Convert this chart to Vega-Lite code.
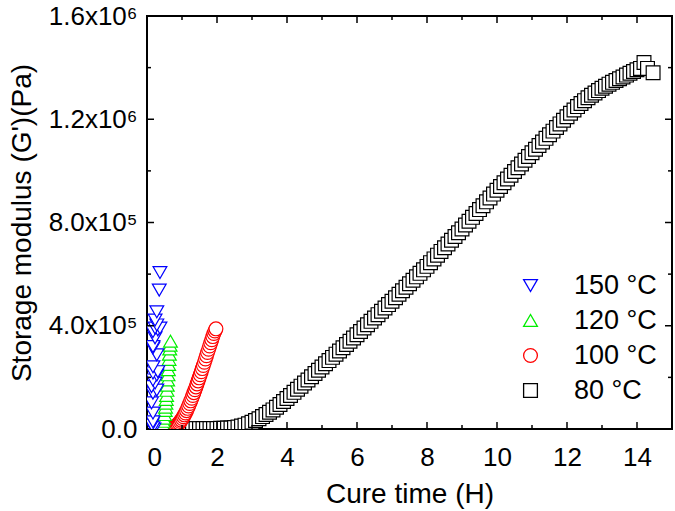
{
"$schema": "https://vega.github.io/schema/vega-lite/v6.json",
"width": 525, "height": 413,
"autosize": {"type": "none"},
"padding": {"left": 147, "top": 16, "right": 3, "bottom": 82},
"config": {"view": {"stroke": "black", "strokeWidth": 2}, "font": "Liberation Sans", "axis": {"grid": false, "domain": false}},
"datasets": {
"tk": [
{"ax":"x","p":2,"k":"major"},{"ax":"x","p":4,"k":"major"},{"ax":"x","p":6,"k":"major"},{"ax":"x","p":8,"k":"major"},{"ax":"x","p":10,"k":"major"},{"ax":"x","p":12,"k":"major"},{"ax":"x","p":14,"k":"major"},
{"ax":"x","p":1,"k":"minor"},{"ax":"x","p":3,"k":"minor"},{"ax":"x","p":5,"k":"minor"},{"ax":"x","p":7,"k":"minor"},{"ax":"x","p":9,"k":"minor"},{"ax":"x","p":11,"k":"minor"},{"ax":"x","p":13,"k":"minor"},
{"ax":"y","p":400000,"k":"major"},{"ax":"y","p":800000,"k":"major"},{"ax":"y","p":1200000,"k":"major"},
{"ax":"y","p":200000,"k":"minor"},{"ax":"y","p":600000,"k":"minor"},{"ax":"y","p":1000000,"k":"minor"},{"ax":"y","p":1400000,"k":"minor"}
],
"pts": [
{"s":"80 °C","t":1.1,"v":1000},{"s":"80 °C","t":1.2,"v":1100},{"s":"80 °C","t":1.3,"v":1200},{"s":"80 °C","t":1.4,"v":1300},{"s":"80 °C","t":1.5,"v":1400},{"s":"80 °C","t":1.6,"v":1500},{"s":"80 °C","t":1.7,"v":1600},{"s":"80 °C","t":1.8,"v":1700},{"s":"80 °C","t":1.9,"v":1800},{"s":"80 °C","t":2.0,"v":2000},
{"s":"80 °C","t":2.1,"v":2500},{"s":"80 °C","t":2.2,"v":3000},{"s":"80 °C","t":2.3,"v":3500},{"s":"80 °C","t":2.4,"v":4000},{"s":"80 °C","t":2.5,"v":6000},{"s":"80 °C","t":2.6,"v":8000},{"s":"80 °C","t":2.7,"v":11500},{"s":"80 °C","t":2.8,"v":15000},{"s":"80 °C","t":2.9,"v":20500},{"s":"80 °C","t":3.0,"v":26000},
{"s":"80 °C","t":3.1,"v":33000},{"s":"80 °C","t":3.2,"v":40000},{"s":"80 °C","t":3.3,"v":48000},{"s":"80 °C","t":3.4,"v":56000},{"s":"80 °C","t":3.5,"v":65000},{"s":"80 °C","t":3.6,"v":74000},{"s":"80 °C","t":3.7,"v":84500},{"s":"80 °C","t":3.8,"v":95000},{"s":"80 °C","t":3.9,"v":106500},{"s":"80 °C","t":4.0,"v":118000},
{"s":"80 °C","t":4.1,"v":130000},{"s":"80 °C","t":4.2,"v":142000},{"s":"80 °C","t":4.3,"v":154000},{"s":"80 °C","t":4.4,"v":166000},{"s":"80 °C","t":4.5,"v":178000},{"s":"80 °C","t":4.6,"v":190000},{"s":"80 °C","t":4.7,"v":202500},{"s":"80 °C","t":4.8,"v":215000},{"s":"80 °C","t":4.9,"v":227500},{"s":"80 °C","t":5.0,"v":240000},
{"s":"80 °C","t":5.1,"v":252500},{"s":"80 °C","t":5.2,"v":265000},{"s":"80 °C","t":5.3,"v":277500},{"s":"80 °C","t":5.4,"v":290000},{"s":"80 °C","t":5.5,"v":302500},{"s":"80 °C","t":5.6,"v":315000},{"s":"80 °C","t":5.7,"v":327500},{"s":"80 °C","t":5.8,"v":340000},{"s":"80 °C","t":5.9,"v":352500},{"s":"80 °C","t":6.0,"v":365000},
{"s":"80 °C","t":6.1,"v":378000},{"s":"80 °C","t":6.2,"v":391000},{"s":"80 °C","t":6.3,"v":404000},{"s":"80 °C","t":6.4,"v":417000},{"s":"80 °C","t":6.5,"v":430000},{"s":"80 °C","t":6.6,"v":443000},{"s":"80 °C","t":6.7,"v":456000},{"s":"80 °C","t":6.8,"v":469000},{"s":"80 °C","t":6.9,"v":482000},{"s":"80 °C","t":7.0,"v":495000},
{"s":"80 °C","t":7.1,"v":508500},{"s":"80 °C","t":7.2,"v":522000},{"s":"80 °C","t":7.3,"v":535500},{"s":"80 °C","t":7.4,"v":549000},{"s":"80 °C","t":7.5,"v":562500},{"s":"80 °C","t":7.6,"v":576000},{"s":"80 °C","t":7.7,"v":589500},{"s":"80 °C","t":7.8,"v":603000},{"s":"80 °C","t":7.9,"v":616500},{"s":"80 °C","t":8.0,"v":630000},
{"s":"80 °C","t":8.1,"v":644500},{"s":"80 °C","t":8.2,"v":659000},{"s":"80 °C","t":8.3,"v":673500},{"s":"80 °C","t":8.4,"v":688000},{"s":"80 °C","t":8.5,"v":702500},{"s":"80 °C","t":8.6,"v":717000},{"s":"80 °C","t":8.7,"v":731500},{"s":"80 °C","t":8.8,"v":746000},{"s":"80 °C","t":8.9,"v":760500},{"s":"80 °C","t":9.0,"v":775000},
{"s":"80 °C","t":9.1,"v":790000},{"s":"80 °C","t":9.2,"v":805000},{"s":"80 °C","t":9.3,"v":820000},{"s":"80 °C","t":9.4,"v":835000},{"s":"80 °C","t":9.5,"v":850000},{"s":"80 °C","t":9.6,"v":865000},{"s":"80 °C","t":9.7,"v":880000},{"s":"80 °C","t":9.8,"v":895000},{"s":"80 °C","t":9.9,"v":910000},{"s":"80 °C","t":10.0,"v":925000},
{"s":"80 °C","t":10.1,"v":939500},{"s":"80 °C","t":10.2,"v":954000},{"s":"80 °C","t":10.3,"v":968500},{"s":"80 °C","t":10.4,"v":983000},{"s":"80 °C","t":10.5,"v":997500},{"s":"80 °C","t":10.6,"v":1012000},{"s":"80 °C","t":10.7,"v":1026500},{"s":"80 °C","t":10.8,"v":1041000},{"s":"80 °C","t":10.9,"v":1055500},{"s":"80 °C","t":11.0,"v":1070000},
{"s":"80 °C","t":11.1,"v":1084000},{"s":"80 °C","t":11.2,"v":1098000},{"s":"80 °C","t":11.3,"v":1112000},{"s":"80 °C","t":11.4,"v":1126000},{"s":"80 °C","t":11.5,"v":1140000},{"s":"80 °C","t":11.6,"v":1154000},{"s":"80 °C","t":11.7,"v":1168000},{"s":"80 °C","t":11.8,"v":1182000},{"s":"80 °C","t":11.9,"v":1196000},{"s":"80 °C","t":12.0,"v":1210000},
{"s":"80 °C","t":12.1,"v":1223000},{"s":"80 °C","t":12.2,"v":1236000},{"s":"80 °C","t":12.3,"v":1249000},{"s":"80 °C","t":12.4,"v":1261000},{"s":"80 °C","t":12.5,"v":1272000},{"s":"80 °C","t":12.6,"v":1283000},{"s":"80 °C","t":12.7,"v":1293000},{"s":"80 °C","t":12.8,"v":1302000},{"s":"80 °C","t":12.9,"v":1311000},{"s":"80 °C","t":13.0,"v":1320000},
{"s":"80 °C","t":13.1,"v":1328000},{"s":"80 °C","t":13.2,"v":1336000},{"s":"80 °C","t":13.3,"v":1343000},{"s":"80 °C","t":13.4,"v":1350000},{"s":"80 °C","t":13.5,"v":1357000},{"s":"80 °C","t":13.6,"v":1364000},{"s":"80 °C","t":13.7,"v":1371000},{"s":"80 °C","t":13.8,"v":1378000},{"s":"80 °C","t":13.9,"v":1385000},{"s":"80 °C","t":14.0,"v":1392000},
{"s":"80 °C","t":14.1,"v":1397000},{"s":"80 °C","t":14.2,"v":1420000},{"s":"80 °C","t":14.3,"v":1397000},{"s":"80 °C","t":14.46,"v":1380000},
{"s":"100 °C","t":0.65,"v":2500},{"s":"100 °C","t":0.68,"v":2800},{"s":"100 °C","t":0.71,"v":3500},{"s":"100 °C","t":0.74,"v":5000},{"s":"100 °C","t":0.77,"v":6500},{"s":"100 °C","t":0.80,"v":8000},{"s":"100 °C","t":0.83,"v":11600},{"s":"100 °C","t":0.86,"v":15200},{"s":"100 °C","t":0.89,"v":18800},{"s":"100 °C","t":0.92,"v":23600},
{"s":"100 °C","t":0.95,"v":29000},{"s":"100 °C","t":0.98,"v":34400},{"s":"100 °C","t":1.01,"v":40400},{"s":"100 °C","t":1.04,"v":47600},{"s":"100 °C","t":1.07,"v":54800},{"s":"100 °C","t":1.10,"v":62000},{"s":"100 °C","t":1.13,"v":71000},{"s":"100 °C","t":1.16,"v":80000},{"s":"100 °C","t":1.19,"v":89000},{"s":"100 °C","t":1.22,"v":98800},
{"s":"100 °C","t":1.25,"v":109000},{"s":"100 °C","t":1.28,"v":119200},{"s":"100 °C","t":1.31,"v":129700},{"s":"100 °C","t":1.34,"v":140800},{"s":"100 °C","t":1.37,"v":151900},{"s":"100 °C","t":1.40,"v":163000},{"s":"100 °C","t":1.43,"v":174700},{"s":"100 °C","t":1.46,"v":186400},{"s":"100 °C","t":1.49,"v":198100},{"s":"100 °C","t":1.52,"v":210000},
{"s":"100 °C","t":1.55,"v":222000},{"s":"100 °C","t":1.58,"v":234000},{"s":"100 °C","t":1.61,"v":246200},{"s":"100 °C","t":1.64,"v":258800},{"s":"100 °C","t":1.67,"v":271400},{"s":"100 °C","t":1.70,"v":284000},{"s":"100 °C","t":1.73,"v":296600},{"s":"100 °C","t":1.76,"v":309200},{"s":"100 °C","t":1.79,"v":321800},{"s":"100 °C","t":1.82,"v":334000},
{"s":"100 °C","t":1.85,"v":346000},{"s":"100 °C","t":1.88,"v":358000},{"s":"100 °C","t":1.91,"v":369800},{"s":"100 °C","t":1.94,"v":379400},{"s":"100 °C","t":1.97,"v":388000},
{"s":"120 °C","t":0.30,"v":0},{"s":"120 °C","t":0.33,"v":1000},{"s":"120 °C","t":0.36,"v":3000},{"s":"120 °C","t":0.39,"v":7000},{"s":"120 °C","t":0.42,"v":13000},{"s":"120 °C","t":0.44,"v":20000},{"s":"120 °C","t":0.46,"v":30000},{"s":"120 °C","t":0.48,"v":42000},{"s":"120 °C","t":0.50,"v":56000},{"s":"120 °C","t":0.52,"v":72000},
{"s":"120 °C","t":0.53,"v":85000},{"s":"120 °C","t":0.54,"v":100000},{"s":"120 °C","t":0.55,"v":115000},{"s":"120 °C","t":0.56,"v":130000},{"s":"120 °C","t":0.57,"v":150000},{"s":"120 °C","t":0.58,"v":170000},{"s":"120 °C","t":0.59,"v":190000},{"s":"120 °C","t":0.60,"v":210000},{"s":"120 °C","t":0.61,"v":230000},{"s":"120 °C","t":0.62,"v":250000},
{"s":"120 °C","t":0.63,"v":270000},{"s":"120 °C","t":0.64,"v":290000},{"s":"120 °C","t":0.65,"v":310000},{"s":"120 °C","t":0.66,"v":325000},{"s":"120 °C","t":0.67,"v":340000},
{"s":"150 °C","t":0.20,"v":0},{"s":"150 °C","t":0.17,"v":5000},{"s":"150 °C","t":0.14,"v":15000},{"s":"150 °C","t":0.17,"v":28000},{"s":"150 °C","t":0.17,"v":62000},{"s":"150 °C","t":0.13,"v":101000},{"s":"150 °C","t":0.17,"v":139000},{"s":"150 °C","t":0.28,"v":151000},{"s":"150 °C","t":0.13,"v":164000},{"s":"150 °C","t":0.23,"v":178000},
{"s":"150 °C","t":0.17,"v":190000},{"s":"150 °C","t":0.28,"v":209000},{"s":"150 °C","t":0.17,"v":217000},{"s":"150 °C","t":0.31,"v":222000},{"s":"150 °C","t":0.17,"v":241000},{"s":"150 °C","t":0.28,"v":287000},{"s":"150 °C","t":0.17,"v":314000},{"s":"150 °C","t":0.17,"v":319000},{"s":"150 °C","t":0.23,"v":353000},{"s":"150 °C","t":0.17,"v":377000},
{"s":"150 °C","t":0.31,"v":384000},{"s":"150 °C","t":0.23,"v":391000},{"s":"150 °C","t":0.37,"v":391000},{"s":"150 °C","t":0.28,"v":403000},{"s":"150 °C","t":0.23,"v":422000},{"s":"150 °C","t":0.28,"v":454000},{"s":"150 °C","t":0.35,"v":538000},{"s":"150 °C","t":0.37,"v":606000}
]
},
"layer": [
{
"data": {"name": "pts"},
"mark": {"type": "point", "filled": true, "fill": "white", "strokeWidth": 1.2, "clip": true, "opacity": 1},
"encoding": {
"x": {"field": "t", "type": "quantitative", "scale": {"domain": [0, 15], "nice": false, "zero": false},
 "axis": {"orient": "bottom", "values": [0,2,4,6,8,10,12,14], "ticks": false, "labelColor": "black", "titleColor": "black", "labelPadding": 15, "labelFontSize": 26, "title": "Cure time (H)", "titleFontSize": 28, "titleFontWeight": "normal", "titlePadding": 10}},
"y": {"field": "v", "type": "quantitative", "scale": {"domain": [0, 1600000], "nice": false},
 "axis": {"orient": "left", "values": [0,400000,800000,1200000,1600000], "ticks": false, "labelColor": "black", "titleColor": "black", "labelPadding": 10, "labelFontSize": 26,
 "labelExpr": "datum.value == 0 ? '0.0' : datum.value == 400000 ? '4.0x10⁵' : datum.value == 800000 ? '8.0x10⁵' : datum.value == 1200000 ? '1.2x10⁶' : '1.6x10⁶'",
 "title": "Storage modulus (G')(Pa)", "titleFontSize": 28, "titleFontWeight": "normal", "titlePadding": 12}},
"stroke": {"field": "s", "type": "nominal", "scale": {"domain": ["150 °C","120 °C","100 °C","80 °C"], "range": ["#0000ff","#00ee00","#ff0000","#000000"]},
 "legend": {"orient": "none", "legendX": 370, "legendY": 256, "title": null, "labelFontSize": 27, "symbolStrokeWidth": 1.3, "rowPadding": 7, "labelOffset": 30, "labelColor": "black"}},
"shape": {"field": "s", "type": "nominal", "scale": {"domain": ["150 °C","120 °C","100 °C","80 °C"], "range": ["triangle-down","triangle-up","circle","square"]},
 "legend": {"orient": "none", "legendX": 370, "legendY": 256, "title": null, "labelFontSize": 27, "symbolStrokeWidth": 1.3, "rowPadding": 7, "labelOffset": 30, "labelColor": "black"}},
"size": {"field": "s", "type": "nominal", "scale": {"domain": ["150 °C","120 °C","100 °C","80 °C"], "range": [190,190,130,100]},
 "legend": {"orient": "none", "legendX": 370, "legendY": 256, "title": null, "labelFontSize": 27, "symbolStrokeWidth": 1.3, "rowPadding": 7, "labelOffset": 30, "labelColor": "black"}}
}
},
{
"data": {"name": "tk"}, "transform": [{"filter": "datum.ax == 'x' && datum.k == 'major'"}],
"mark": {"type": "rule", "color": "black", "strokeWidth": 1.5},
"encoding": {"x": {"field": "p", "type": "quantitative", "axis": null}, "y": {"datum": 0, "type": "quantitative", "axis": null}, "y2": {"datum": 27000}}
},
{
"data": {"name": "tk"}, "transform": [{"filter": "datum.ax == 'x' && datum.k == 'minor'"}],
"mark": {"type": "rule", "color": "black", "strokeWidth": 1.5},
"encoding": {"x": {"field": "p", "type": "quantitative", "axis": null}, "y": {"datum": 0, "type": "quantitative", "axis": null}, "y2": {"datum": 15500}}
},
{
"data": {"name": "tk"}, "transform": [{"filter": "datum.ax == 'x' && datum.k == 'major'"}],
"mark": {"type": "rule", "color": "black", "strokeWidth": 1.5},
"encoding": {"x": {"field": "p", "type": "quantitative", "axis": null}, "y": {"datum": 1600000, "type": "quantitative", "axis": null}, "y2": {"datum": 1573000}}
},
{
"data": {"name": "tk"}, "transform": [{"filter": "datum.ax == 'x' && datum.k == 'minor'"}],
"mark": {"type": "rule", "color": "black", "strokeWidth": 1.5},
"encoding": {"x": {"field": "p", "type": "quantitative", "axis": null}, "y": {"datum": 1600000, "type": "quantitative", "axis": null}, "y2": {"datum": 1584500}}
},
{
"data": {"name": "tk"}, "transform": [{"filter": "datum.ax == 'y' && datum.k == 'major'"}],
"mark": {"type": "rule", "color": "black", "strokeWidth": 1.5},
"encoding": {"y": {"field": "p", "type": "quantitative", "axis": null}, "x": {"datum": 0, "type": "quantitative", "axis": null}, "x2": {"datum": 0.2}}
},
{
"data": {"name": "tk"}, "transform": [{"filter": "datum.ax == 'y' && datum.k == 'minor'"}],
"mark": {"type": "rule", "color": "black", "strokeWidth": 1.5},
"encoding": {"y": {"field": "p", "type": "quantitative", "axis": null}, "x": {"datum": 0, "type": "quantitative", "axis": null}, "x2": {"datum": 0.114}}
},
{
"data": {"name": "tk"}, "transform": [{"filter": "datum.ax == 'y' && datum.k == 'major'"}],
"mark": {"type": "rule", "color": "black", "strokeWidth": 1.5},
"encoding": {"y": {"field": "p", "type": "quantitative", "axis": null}, "x": {"datum": 15, "type": "quantitative", "axis": null}, "x2": {"datum": 14.8}}
},
{
"data": {"name": "tk"}, "transform": [{"filter": "datum.ax == 'y' && datum.k == 'minor'"}],
"mark": {"type": "rule", "color": "black", "strokeWidth": 1.5},
"encoding": {"y": {"field": "p", "type": "quantitative", "axis": null}, "x": {"datum": 15, "type": "quantitative", "axis": null}, "x2": {"datum": 14.886}}
}
],
"resolve": {"axis": {"x": "independent", "y": "independent"}}
}
